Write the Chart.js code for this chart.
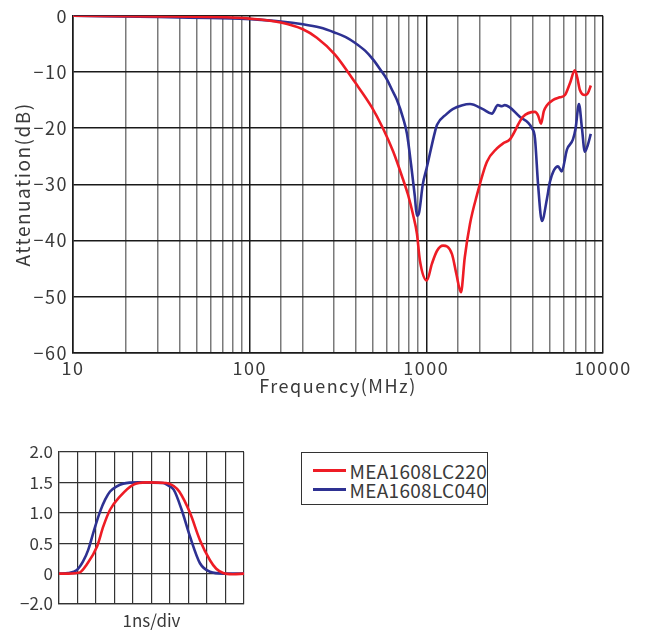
<!DOCTYPE html>
<html>
<head>
<meta charset="utf-8">
<script src="https://cdn.jsdelivr.net/npm/chart.js@4.4.1/dist/chart.umd.min.js"></script>
<style>
  body { margin: 0; background: #fff; }
  #wrap { position: relative; width: 645px; height: 634px; }
  #attChart { position: absolute; left: 0; top: 0; }
  #pulseChart { position: absolute; left: 0; top: 430px; }
  #legend {
    position: absolute; left: 301px; top: 452px; width: 187px; height: 53px;
    border: 1px solid #333; font-family: "Noto Sans CJK JP", "Noto Sans", sans-serif;
    font-size: 19px; letter-spacing: 0.3px; color: #3a3a3a; padding-top: 8px; box-sizing: border-box;
  }
  #legend .row { display: flex; align-items: center; height: 19px; }
  #legend .swatch { width: 38px; height: 3px; margin-left: 11px; margin-right: 4px; }
</style>
</head>
<body>
<div id="wrap">
  <canvas id="attChart" width="645" height="400"></canvas>
  <canvas id="pulseChart" width="290" height="204"></canvas>
  <div id="legend"></div>
</div>
<script>
const seriesNames = ['MEA1608LC220', 'MEA1608LC040'];
const seriesColors = ['#ee1c25', '#2e3192'];

// attenuation vs frequency (MHz, dB)
const freqRed = [10, 30, 60, 100, 150, 200, 240, 304, 394, 490, 568, 650, 736, 787, 840, 885, 920, 1006, 1076, 1150, 1243, 1397, 1480, 1570, 1650, 1767, 1930, 2200, 2510, 2720, 2970, 3520, 4120, 4300, 4460, 4620, 4820, 5200, 5700, 6090, 6500, 6930, 7150, 7400, 7890, 8200, 8530];
const attRed = [0, -0.1, -0.2, -0.5, -1.2, -2.4, -3.9, -6.9, -11.8, -16.2, -20, -24.2, -29, -31.8, -35.3, -38.8, -43.6, -47.1, -44.1, -41.8, -40.9, -42.4, -46, -49.2, -43, -37, -32, -26, -23.6, -22.7, -22, -18, -17.1, -17.8, -19.2, -17, -15.9, -15, -14.5, -14.1, -12, -9.7, -11, -13.2, -14.1, -13.8, -12.4];

const freqBlue = [10, 30, 60, 88, 150, 200, 250, 304, 350, 394, 450, 500, 550, 598, 640, 682, 740, 777, 820, 860, 885, 910, 955, 1006, 1120, 1150, 1300, 1410, 1600, 1767, 2090, 2350, 2540, 2680, 2780, 3390, 3960, 4120, 4290, 4510, 4820, 5010, 5560, 5840, 6250, 6760, 7000, 7310, 7600, 7890, 8200, 8530];
const attBlue = [0, -0.2, -0.4, -0.5, -1.0, -1.5, -2.1, -3.0, -3.8, -4.8, -6.2, -7.8, -9.6, -11.3, -13.2, -15, -18.3, -21, -26.5, -32, -35.6, -35, -30, -27, -20.6, -19.4, -17.5, -16.6, -15.9, -15.7, -16.6, -17.4, -15.9, -16.1, -15.9, -18, -20, -21.8, -30, -36.5, -32.5, -29.5, -26.8, -27.7, -23.8, -22, -20, -15.7, -20, -24.2, -23, -21];

const attTicks = [0, -10, -20, -30, -40, -50, -60];

// pulse response (ns, relative)
const tRed = [0, 0.5, 1.13, 1.5, 2.05, 2.4, 2.76, 3.3, 4.0, 4.75, 5.8, 6.2, 6.5, 7.08, 7.62, 8.16, 8.5, 8.87, 9.4, 10];
const vRed = [0, 0, 0.02, 0.15, 0.44, 0.78, 1.05, 1.27, 1.46, 1.5, 1.49, 1.44, 1.35, 1.0, 0.55, 0.22, 0.08, 0.01, -0.01, 0];
const tBlue = [0, 0.5, 0.97, 1.3, 1.58, 1.9, 2.22, 2.5, 2.76, 3.1, 3.47, 4.3, 5.63, 5.9, 6.2, 6.63, 7.08, 7.62, 8.16, 8.9, 10];
const vBlue = [0, 0.01, 0.06, 0.2, 0.39, 0.72, 1.02, 1.22, 1.35, 1.43, 1.48, 1.5, 1.49, 1.45, 1.38, 1.05, 0.61, 0.17, 0.03, 0, 0];
const pulseTickValues = [-0.5, 0, 0.5, 1.0, 1.5, 2.0];
const pulseTickLabels = ['\u22122.0', '0', '0.5', '1.0', '1.5', '2.0'];

const FONT = '"Noto Sans CJK JP", "Noto Sans", sans-serif';
const TEXT = '#3a3a3a';

const toPoints = (xs, ys) => xs.map((x, i) => ({ x: x, y: ys[i] }));
const lineSet = (i, data) => ({
  label: seriesNames[i],
  data: data,
  borderColor: seriesColors[i],
  borderWidth: 2.6,
  pointRadius: 0,
  fill: false,
  cubicInterpolationMode: 'monotone',
});

// the reference lettering is a bit wider than our fonts
const spacing = (px) => ({
  id: 'spacing',
  beforeLayout(chart) { chart.ctx.letterSpacing = px; },
  beforeDraw(chart) { chart.ctx.letterSpacing = px; },
});

new Chart(document.getElementById('attChart'), {
  type: 'line',
  data: {
    datasets: [
      lineSet(0, toPoints(freqRed, attRed)),
      lineSet(1, toPoints(freqBlue, attBlue)),
    ],
  },
  options: {
    responsive: false,
    animation: false,
    devicePixelRatio: 1,
    layout: { padding: { top: 13, right: 42, left: 0, bottom: 0 } },
    plugins: { legend: { display: false }, tooltip: { enabled: false } },
    scales: {
      x: {
        type: 'logarithmic',
        min: 10,
        max: 10000,
        afterFit(s) { s.height = 47; },
        grid: {
          drawTicks: false,
          lineWidth: 1.5,
          color: (c) => Number.isInteger(Math.log10(c.tick.value)) ? '#1a1a1a' : '#7a7a7a',
        },
        border: { color: '#1a1a1a', width: 1.5 },
        ticks: {
          autoSkip: false,
          maxRotation: 0,
          padding: 4,
          color: TEXT,
          font: { family: FONT, size: 18 },
          callback: (v) => Number.isInteger(Math.log10(v)) ? String(v) : '',
        },
        title: {
          display: true,
          text: 'Frequency(MHz)',
          color: TEXT,
          font: { family: FONT, size: 18 },
          padding: { top: 0, bottom: 3 },
        },
      },
      y: {
        min: -60,
        max: 0,
        afterFit(s) { s.width = 73; },
        afterBuildTicks(s) { s.ticks = attTicks.map((v) => ({ value: v })); },
        grid: { drawTicks: false, lineWidth: 1.5, color: '#1a1a1a' },
        border: { color: '#1a1a1a', width: 1.5 },
        ticks: {
          padding: 5,
          color: TEXT,
          font: { family: FONT, size: 18 },
          callback: (v) => v < 0 ? '\u2212' + Math.abs(v) : String(v),
        },
        title: {
          display: true,
          text: 'Attenuation(dB)',
          color: TEXT,
          font: { family: FONT, size: 19 },
          padding: { top: 11, bottom: 0 },
        },
      },
    },
  },
  plugins: [spacing('1.5px')],
});

const pulse = new Chart(document.getElementById('pulseChart'), {
  type: 'line',
  data: {
    datasets: [
      lineSet(0, toPoints(tRed, vRed)),
      lineSet(1, toPoints(tBlue, vBlue)),
    ],
  },
  options: {
    responsive: false,
    animation: false,
    devicePixelRatio: 1,
    layout: { padding: { top: 22, right: 46, left: 0, bottom: 0 } },
    plugins: { legend: { display: false }, tooltip: { enabled: false } },
    scales: {
      x: {
        type: 'linear',
        min: 0,
        max: 10,
        afterFit(s) { s.height = 30; },
        grid: { drawTicks: false, lineWidth: 1.2, color: '#333' },
        border: { color: '#333', width: 1.2 },
        ticks: { stepSize: 1, display: false },
        title: {
          display: true,
          text: '1ns/div',
          color: TEXT,
          font: { family: FONT, size: 17 },
          padding: { top: 0, bottom: 3 },
        },
      },
      y: {
        min: -0.5,
        max: 2.0,
        afterFit(s) { s.width = 59; },
        afterBuildTicks(s) { s.ticks = pulseTickValues.map((v) => ({ value: v })); },
        grid: { drawTicks: false, lineWidth: 1.2, color: '#333' },
        border: { color: '#333', width: 1.2 },
        ticks: {
          padding: 6,
          color: TEXT,
          font: { family: FONT, size: 17 },
          callback: (v) => pulseTickLabels[pulseTickValues.indexOf(v)],
        },
      },
    },
  },
});

// legend box built from the pulse chart datasets
const legendEl = document.getElementById('legend');
pulse.data.datasets.forEach((ds) => {
  const row = document.createElement('div');
  row.className = 'row';
  const sw = document.createElement('span');
  sw.className = 'swatch';
  sw.style.background = ds.borderColor;
  const label = document.createElement('span');
  label.textContent = ds.label;
  row.appendChild(sw);
  row.appendChild(label);
  legendEl.appendChild(row);
});
</script>
</body>
</html>
